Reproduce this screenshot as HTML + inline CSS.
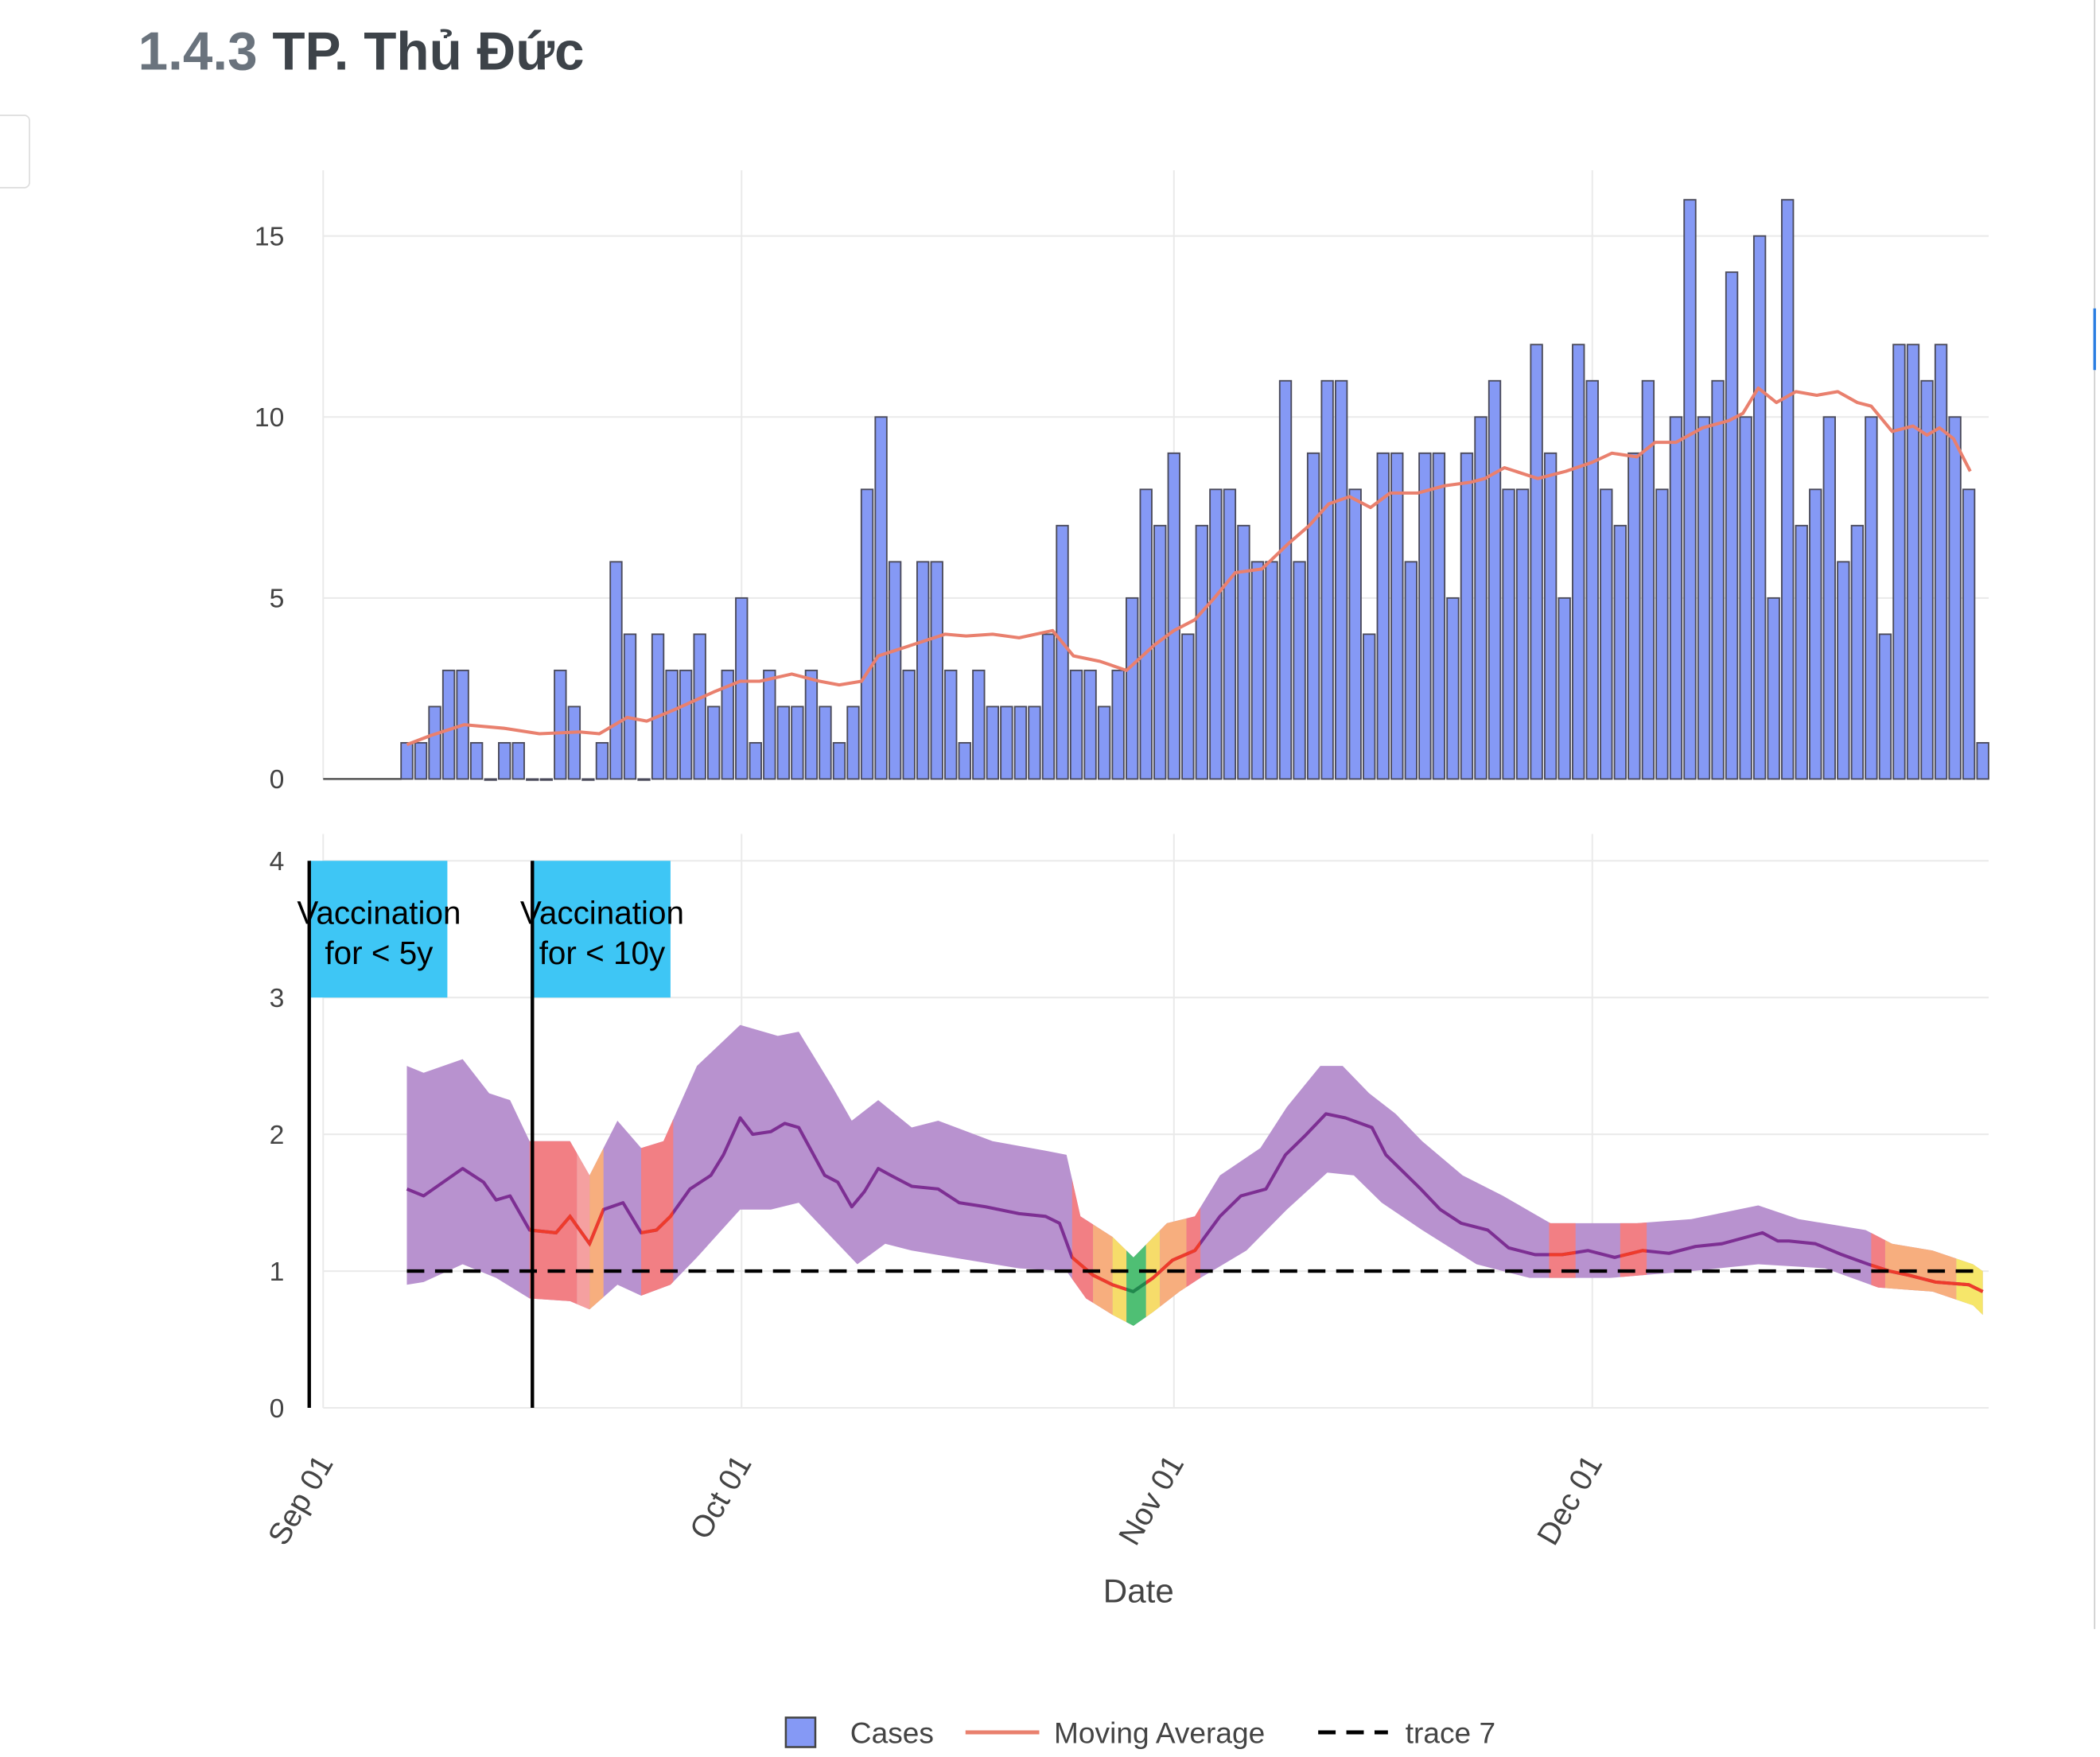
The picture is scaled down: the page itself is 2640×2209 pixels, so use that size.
<!DOCTYPE html>
<html><head><meta charset="utf-8">
<style>
html,body{margin:0;padding:0;background:#fff;}
svg{display:block;font-family:"Liberation Sans","DejaVu Sans",sans-serif;}
</style></head>
<body>
<svg id="chart" width="2640" height="2209" viewBox="0 0 1566 1310.4" preserveAspectRatio="none" xmlns="http://www.w3.org/2000/svg">
  <text x="103" y="52" font-size="40" font-weight="bold" fill="#6a737d">1.4.3 <tspan fill="#3d4349">TP. Thủ Đức</tspan></text>
  <rect x="-10" y="86" width="32" height="54" rx="4" fill="none" stroke="#ddd"/>
  <line x1="1562" y1="0" x2="1562" y2="1215" stroke="#ccc"/>
  <line x1="1562" y1="230" x2="1562" y2="276" stroke="#2a7de1" stroke-width="2"/>
  <g id="topPanel"></g>
  <g id="botPanel"></g>
  <g id="xaxis"></g>
  <text x="849" y="1195" font-size="25" text-anchor="middle" fill="#444">Date</text>
  <g>
    <g>
      <rect x="586" y="1281" width="22" height="22" fill="#8599f5" stroke="#444" stroke-width="1.5"/>
      <text x="634" y="1300" font-size="22" fill="#444">Cases</text>
    </g>
    <g>
      <line x1="720" y1="1292" x2="775" y2="1292" stroke="#e9806e" stroke-width="3"/>
      <text x="786" y="1300" font-size="22" fill="#444">Moving Average</text>
    </g>
    <g>
      <line x1="983" y1="1292" x2="1035" y2="1292" stroke="#000" stroke-width="3" stroke-dasharray="13,8"/>
      <text x="1048" y="1300" font-size="22" fill="#444">trace 7</text>
    </g>
  </g>
</svg>
<script>
const caseStartDay = 6;
const cases = [1,1,2,3,3,1,0,1,1,0, 0,3,2,0,1,6,4,0,4,3, 3,4,2,3,5,1,3,2,2,3, 2,1,2,8,10,6,3,6,6,3, 1,3,2,2,2,2,4,7,3,3, 2,3,5,8,7,9,4,7,8,8, 7,6,6,11,6,9,11,11,8,4, 9,9,6,9,9,5,9,10,11,8, 8,12,9,5,12,11,8,7,9,11, 8,10,16,10,11,14,10,15,5,16, 7,8,10,6,7,10,4,12,12,11, 12,10,8,1];
const maDays = [6,7.7,10.1,13,15.5,18.4,19.8,21.8,23.2,25.1,27.98,29.9,31.3,33.6,35.6,37,38.6,39.8,42.2,44.6,46.1,48,49.9,52.3,53.8,55.7,57.6,59.6,61,62.5,63.9,65.4,67.3,69.2,70.7,72.1,73.6,75.1,76.5,78.5,80.4,82.3,83.3,84.7,87.1,89.1,91,92.4,94.2,95.5,97,98.9,100.8,101.8,102.9,104.2,105.6,107.1,108.6,110,111,112.5,114,115,115.9,116.9,118.1];
const maVals = [0.95,1.2,1.5,1.4,1.25,1.3,1.25,1.7,1.6,1.9,2.4,2.7,2.7,2.9,2.7,2.6,2.7,3.4,3.7,4.0,3.95,4.0,3.9,4.1,3.4,3.25,3.0,3.7,4.1,4.4,5.0,5.7,5.8,6.5,7.0,7.6,7.8,7.5,7.9,7.9,8.1,8.2,8.3,8.6,8.3,8.5,8.75,9.0,8.9,9.3,9.3,9.7,9.9,10.1,10.8,10.4,10.7,10.6,10.7,10.4,10.3,9.6,9.75,9.5,9.7,9.4,8.5];
const rtDays = [6,7.2,10.0,11.5,12.4,13.4,14.8,16.7,17.7,19.1,20.1,21.5,22.8,23.9,24.9,26.3,27.8,28.7,29.9,30.8,32.1,33.1,34.1,35.96,36.9,37.9,38.8,39.8,40.7,42.2,44.1,45.6,47.5,49.9,51.8,52.8,53.7,55.2,56.6,58.08,59.5,60.9,62.5,64.3,65.8,67.6,69,70.5,71.9,73.3,75.2,76.2,77.2,78.7,80.1,81.6,83.5,85,86.9,88.8,90.7,92.6,94.6,96.5,98.4,100.3,103.2,104.3,105.1,107,108.9,110.8,112.3,113.7,115.6,118,119];
const rtVals = [1.6,1.55,1.75,1.65,1.52,1.55,1.3,1.28,1.4,1.2,1.45,1.5,1.28,1.3,1.4,1.6,1.7,1.85,2.12,2.0,2.02,2.08,2.05,1.7,1.65,1.47,1.58,1.75,1.7,1.62,1.6,1.5,1.47,1.42,1.40,1.35,1.1,0.97,0.9,0.85,0.95,1.08,1.15,1.4,1.55,1.6,1.85,2.0,2.15,2.12,2.05,1.85,1.75,1.6,1.45,1.35,1.3,1.17,1.12,1.12,1.15,1.1,1.15,1.13,1.18,1.2,1.28,1.22,1.22,1.2,1.12,1.05,1.0,0.97,0.92,0.9,0.85];
const upDays = [6,7.2,10,11.9,13.4,14.8,17.7,19.1,21.1,22.8,24.4,26.8,29.9,32.6,34.1,36.5,37.9,39.8,42.2,44.1,48,51.8,53.3,54.3,56.6,58.1,60.5,62.5,64.3,67.2,69.1,71.5,73.1,75,76.9,78.8,81.7,84.6,88,91.3,94.2,98.1,102.9,105.8,110.6,112.5,115.4,118.3,119];
const upVals = [2.5,2.45,2.55,2.3,2.25,1.95,1.95,1.7,2.1,1.9,1.95,2.5,2.8,2.72,2.75,2.35,2.1,2.25,2.05,2.1,1.95,1.88,1.85,1.4,1.25,1.1,1.35,1.4,1.7,1.9,2.2,2.5,2.5,2.3,2.15,1.95,1.7,1.55,1.35,1.35,1.35,1.38,1.48,1.38,1.3,1.2,1.15,1.05,1.0];
const loDays = [6,7.2,10,12.4,14.8,17.7,19.1,21.1,22.8,24.9,26.8,29.9,32.1,34.1,36.9,38.3,40.3,42.2,45.1,49.9,53.3,54.7,56.6,58.1,59.5,61.4,62.9,66.2,69.1,72,73.9,75.9,78.8,82.7,86.5,92.3,98.1,102.9,107.7,111.5,115.4,118.3,119];
const loVals = [0.9,0.92,1.05,0.95,0.8,0.78,0.72,0.9,0.82,0.9,1.1,1.45,1.45,1.5,1.2,1.05,1.2,1.15,1.1,1.02,1.0,0.8,0.68,0.6,0.7,0.85,0.95,1.15,1.45,1.72,1.7,1.5,1.3,1.05,0.95,0.95,1.0,1.05,1.02,0.88,0.85,0.75,0.68];
const spanStart = [14.8,18.2,19.1,22.8,53.7,55.2,56.6,57.6,59.0,60.0,61.9,87.9,93.0,111.0,112.0,117.1];
const spanEnd   = [18.2,19.1,20.1,25.1,55.2,56.6,57.6,59.0,60.0,61.9,62.9,89.8,94.9,112.0,117.1,119.2];
const spanColor = ["#f27f84","#f5a0a0","#f7ae7e","#f27f84","#f27f84","#f7ae7e","#f6dc6a","#4fbf74","#f6dc6a","#f7ae7e","#f27f84","#f27f84","#f27f84","#f27f84","#f7ae7e","#f6e66a"];
const vacDays = [-1,15];
const vacLabels = [["Vaccination","for < 5y"],["Vaccination","for < 10y"]];
const caseTicks = [0,5,10,15];
const rtTicks = [0,1,2,3,4];
const dateTickDays = [0,30,61,91];
const dateTickLabels = ["Sep 01","Oct 01","Nov 01","Dec 01"];

const NS="http://www.w3.org/2000/svg";
const X0=241, PXD=10.4, XR=1483;
const xs = d => X0 + d*PXD;
const yTop = v => 581 - v*27.0;
const yBot = v => 1050 - v*102;
function mk(tag, attrs, parent){const e=document.createElementNS(NS,tag);for(const k in attrs)e.setAttribute(k,attrs[k]);parent.appendChild(e);return e;}
const topG=document.getElementById('topPanel'), botG=document.getElementById('botPanel'), xa=document.getElementById('xaxis');

dateTickDays.forEach((d,i)=>{
  const g1=mk('line',{x1:xs(d),x2:xs(d),y1:127,y2:581,stroke:'#eaeaea','stroke-width':1.2},topG);
  
  
  const g2=mk('line',{x1:xs(d),x2:xs(d),y1:622,y2:1050,stroke:'#eaeaea','stroke-width':1.2},botG);
  
  
  const t=mk('text',{x:0,y:0,'font-size':23,fill:'#444','text-anchor':'end',transform:`translate(${xs(d)+8},${1091}) rotate(-60)`},xa);
  t.textContent=dateTickLabels[i];
  
  
});
caseTicks.forEach(v=>{
  if(v>0){const l=mk('line',{x1:X0,x2:XR,y1:yTop(v),y2:yTop(v),stroke:'#eaeaea','stroke-width':1.2},topG);
  
  }
  const t=mk('text',{x:212,y:yTop(v)+7,'font-size':20,fill:'#444','text-anchor':'end'},topG);
  t.textContent=v;
  
  
});
rtTicks.forEach(v=>{
  const l=mk('line',{x1:X0,x2:XR,y1:yBot(v),y2:yBot(v),stroke:'#eaeaea','stroke-width':1.2},botG);
  
  
  const t=mk('text',{x:212,y:yBot(v)+7,'font-size':20,fill:'#444','text-anchor':'end'},botG);
  t.textContent=v;
  
  
});
const zl=mk('line',{x1:X0,x2:xs(caseStartDay)-4,y1:581,y2:581,stroke:'#555','stroke-width':1.5},topG);


cases.forEach((v,i)=>{
  const d=caseStartDay+i, cx=xs(d), w=8.6;
  const r=mk('rect',{x:cx-w/2,y:yTop(v),width:w,height:Math.max(0.8,581-yTop(v)),fill:'#8599f5',stroke:'#4a4a5a','stroke-width':1.1},topG);
  
  
});
const maPts=maDays.map((d,i)=>xs(d)+','+yTop(maVals[i])).join(' ');
const ma=mk('polyline',{points:maPts,fill:'none',stroke:'#e9806e','stroke-width':2.4,'stroke-linejoin':'round'},topG);



const up=upDays.map((d,i)=>xs(d)+','+yBot(upVals[i]));
const lo=loDays.map((d,i)=>xs(d)+','+yBot(loVals[i])).reverse();
const bandD='M'+up.join(' L')+' L'+lo.join(' L')+' Z';
const band=mk('path',{d:bandD,fill:'#b892cf'},botG);


const defs=mk('defs',{},botG);
const rtPts=rtDays.map((d,i)=>xs(d)+','+yBot(rtVals[i])).join(' ');
spanStart.forEach((s,i)=>{
  const cp=mk('clipPath',{id:'sp'+i},defs);
  mk('rect',{x:xs(s),y:600,width:xs(spanEnd[i])-xs(s),height:460},cp);
  const p=mk('path',{d:bandD,fill:spanColor[i],'clip-path':`url(#sp${i})`},botG);
  
  
});
const rl=mk('polyline',{points:rtPts,fill:'none',stroke:'#7d2f93','stroke-width':2.4,'stroke-linejoin':'round'},botG);


spanStart.forEach((s,i)=>{
  const c=spanColor[i]==='#4fbf74'?'#1f8a4c':'#ee3b2b';
  const p=mk('polyline',{points:rtPts,fill:'none',stroke:c,'stroke-width':2.4,'clip-path':`url(#sp${i})`},botG);
  
  
});
const dl=mk('line',{x1:xs(6),x2:xs(119),y1:yBot(1),y2:yBot(1),stroke:'#000','stroke-width':2.6,'stroke-dasharray':'13,8'},botG);


vacDays.forEach((d,i)=>{
  const x=xs(d);
  const r=mk('rect',{x:x,y:yBot(4),width:103,height:yBot(3)-yBot(4),fill:'#3ec6f5'},botG);
  
  
  const l=mk('line',{x1:x,x2:x,y1:yBot(4),y2:yBot(0),stroke:'#000','stroke-width':2.6},botG);
  
  
  vacLabels[i].forEach((s,j)=>{
    const t=mk('text',{x:x+52,y:yBot(4)+47+j*30,'font-size':24,fill:'#000','text-anchor':'middle'},botG);
    t.textContent=s;
    
    
  });
});
</script>
</body></html>
